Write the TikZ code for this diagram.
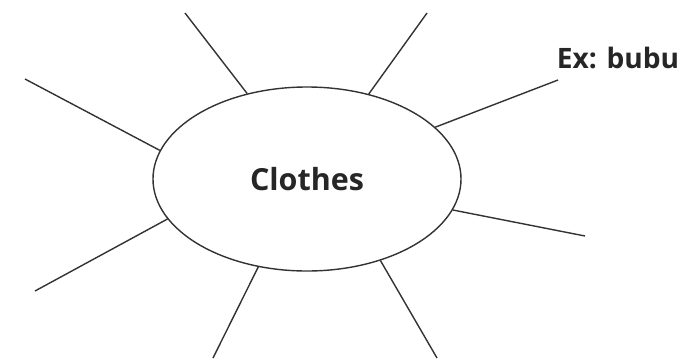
\documentclass[tikz,border=0pt]{standalone}
\usepackage{fontspec}
\newfontfamily\webfont{Open Sans}
\usetikzlibrary{shapes.geometric}
\begin{document}
\begin{tikzpicture}[x=0.03cm,y=-0.03cm,
    spoke/.style={draw=black!80, line width=1.2pt},
    word/.style={font=\webfont\bfseries\fontsize{24}{28}\selectfont, text=black!85}]
  \useasboundingbox (0,0) rectangle (680,358);
  % the word in the middle
  \node (clothes) at (307,179) [ellipse, draw=black!80, line width=1.2pt,
    minimum width=9.24cm, minimum height=5.52cm, inner sep=0pt,
    font=\webfont\bfseries\fontsize{26}{30}\selectfont, text=black!85] {Clothes};
  \node (example) at (618,58) [word] {Ex: bubu};
  % spokes: angle on the ellipse / free end
  \foreach \a/\x/\y [count=\k] in {169.6/25/79, 125.2/185/13, 54.8/427/13, 22.5/558/80,
                                   -12.4/585/236, -48/437/358, 241.2/213/358, 196.8/35/291} {
    \coordinate (end\k) at (\x,\y);
    \draw[spoke] (clothes.\a) -- (end\k);
  }
\end{tikzpicture}
\end{document}
